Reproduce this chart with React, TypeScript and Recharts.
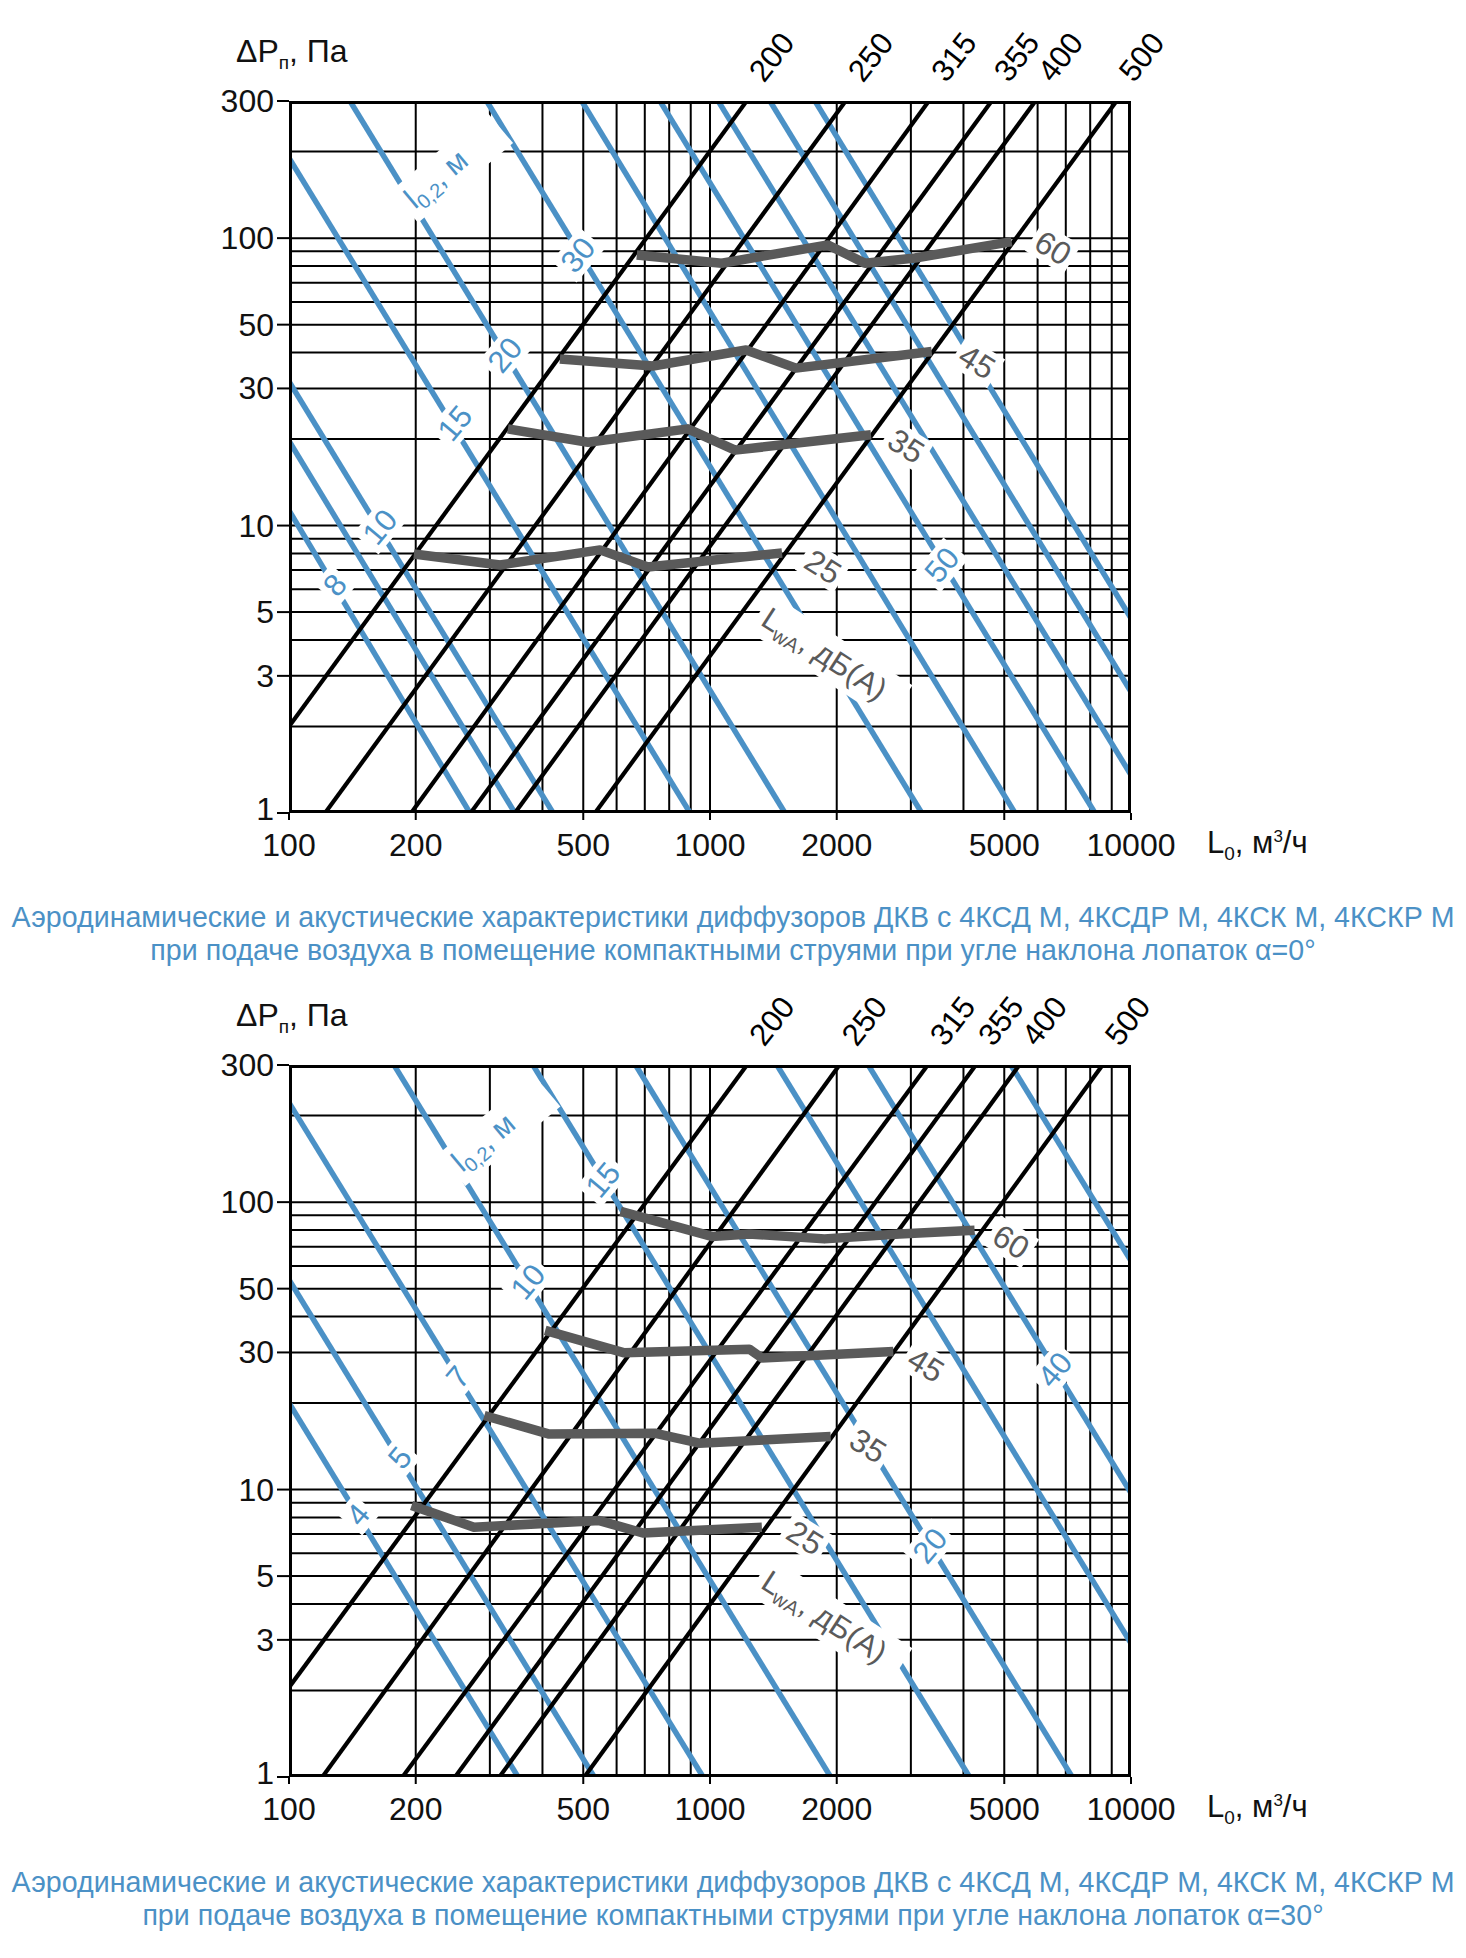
import React from 'react'
import { LineChart, Line, XAxis, YAxis, ReferenceDot } from 'recharts'

document.body.style.margin = '0'

const FONT = "'Liberation Sans', Arial, sans-serif"
const BLUE = '#4b91c6'
const GRAY = '#5a5a5a'

// log grid
const xGrid = [100, 200, 300, 400, 500, 600, 700, 800, 900, 1000, 2000, 3000, 4000, 5000, 6000, 7000, 8000, 9000, 10000]
const yGrid = [1, 2, 3, 4, 5, 6, 7, 8, 9, 10, 20, 30, 40, 50, 60, 70, 80, 90, 100, 200, 300]
const xTicks = [100, 200, 500, 1000, 2000, 5000, 10000]
const yTicks = [1, 3, 5, 10, 30, 50, 100, 300]
const diameters = ['200', '250', '315', '355', '400', '500']

type Pt = [number, number]
type Lbl = [number, number, string]

// ---- alpha = 0 ----
const ductTop: Pt[][] = [
  [[100, 2.0], [1222, 300]],
  [[121.8, 1], [2100, 300]],
  [[195, 1], [3310, 300]],
  [[270, 1], [4667, 300]],
  [[344, 1], [5930, 300]],
  [[533, 1], [9240, 300]],
]
const throwTop: Pt[][] = [
  [[100, 190], [897, 1]],
  [[100, 31.7], [424, 1]],
  [[100, 19.7], [344, 1]],
  [[100, 11.3], [269, 1]],
  [[139.6, 300], [1507, 1]],
  [[294.8, 300], [3184, 1]],
  [[495.7, 300], [5302, 1]],
  [[760.6, 300], [8211, 1]],
  [[1046, 300], [10000, 1.356]],
  [[1388, 300], [10000, 2.64]],
  [[1776, 300], [10000, 4.76]],
]
const noiseTop: Pt[][] = [
  [[670, 87.4], [1066, 81.8], [1906, 94.7], [2334, 81.8], [3069, 85.3], [5206, 97.2]],
  [[440, 38.0], [732, 35.9], [1218, 40.8], [1601, 35.3], [3362, 40.3]],
  [[331, 21.7], [513, 19.5], [886, 21.7], [1147, 18.3], [2412, 20.7]],
  [[198, 7.96], [317, 7.29], [548, 8.23], [712, 7.18], [1483, 8.03]],
]
const throwLabelsTop: Lbl[] = [
  [486, 87.4, '30'], [326, 39.2, '20'], [248, 22.7, '15'], [164.5, 9.89, '10'], [128.6, 6.21, '8'], [3556, 7.29, '50'],
]
const noiseLabelsTop: Lbl[] = [
  [6527, 92.4, '60'], [4308, 37.1, '45'], [2922, 18.9, '35'], [1855, 7.18, '25'],
]
const l02Top: Pt = [244, 177]
const lwaTop: Pt = [1928, 3.46]

// ---- alpha = 30 ----
const ductBottom: Pt[][] = [
  [[100, 2.05], [1224, 300]],
  [[120, 1], [2030, 300]],
  [[186, 1], [3290, 300]],
  [[248, 1], [4280, 300]],
  [[316, 1], [5430, 300]],
  [[503, 1], [8560, 300]],
]
const throwBottom: Pt[][] = [
  [[100, 20.0], [350, 1]],
  [[100, 53.7], [531, 1]],
  [[100, 222], [963, 1]],
  [[177.6, 300], [1935, 1]],
  [[379.7, 300], [4136, 1]],
  [[665.6, 300], [7250, 1]],
  [[1442, 300], [10000, 2.92]],
  [[2376, 300], [10000, 9.73]],
  [[5184, 300], [10000, 62.5]],
]
const noiseBottom: Pt[][] = [
  [[613, 92.9], [1010, 76], [1240, 77.5], [1870, 74.5], [2818, 77.5], [4251, 79.9]],
  [[406, 35.8], [626, 29.9], [1240, 30.8], [1328, 28.7], [2725, 30.2]],
  [[291, 18.1], [415, 15.6], [743, 15.7], [943, 14.5], [1935, 15.3]],
  [[195.5, 8.8], [275, 7.4], [546, 7.8], [693, 7.06], [1328, 7.4]],
]
const throwLabelsBottom: Lbl[] = [
  [557, 119.5, '15'], [369.6, 52.8, '10'], [252, 24.6, '7'], [183.5, 12.9, '5'], [145.8, 8.16, '4'], [6600, 26.1, '40'], [3332, 6.37, '20'],
]
const noiseLabelsBottom: Lbl[] = [
  [5188, 72.7, '60'], [3258, 27.1, '45'], [2373, 14.2, '35'], [1681, 6.79, '25'],
]
const l02Bottom: Pt = [316, 178]
const lwaBottom: Pt = [1928, 3.49]

const captionLine1 = 'Аэродинамические и акустические характеристики диффузоров ДКВ с 4КСД М, 4КСДР М, 4КСК М, 4КСКР М'
const captionTop = 'при подаче воздуха в помещение компактными струями при угле наклона лопаток α=0°'
const captionBottom = 'при подаче воздуха в помещение компактными струями при угле наклона лопаток α=30°'

const toRows = (pts: Pt[]) => pts.map(([x, y]) => ({ x, y }))

const TextTag = ({ cx, cy, text, color, angle, size, bg = true }: any) => {
  const w = text.length * size * 0.58 + 8
  const h = size + 2
  return (
    <g transform={`translate(${cx},${cy}) rotate(${angle})`}>
      {bg && <rect x={-w / 2} y={-h / 2} width={w} height={h} fill="#fff" />}
      <text textAnchor="middle" dominantBaseline="central" fill={color} fontSize={size} fontFamily={FONT}>
        {text}
      </text>
    </g>
  )
}

const L02Tag = ({ cx, cy }: any) => (
  <g transform={`translate(${cx},${cy}) rotate(-40)`}>
    <rect x={-62} y={-21} width={124} height={42} fill="#fff" />
    <text x={-56} y={9} fill={BLUE} fontSize={30} fontFamily={FONT}>
      l<tspan fontSize={20} dy={6}>0,2</tspan>
      <tspan dy={-6}>, м</tspan>
    </text>
  </g>
)

const LwaTag = ({ cx, cy }: any) => (
  <g transform={`translate(${cx},${cy}) rotate(33)`}>
    <rect x={-84} y={-22} width={168} height={44} fill="#fff" />
    <text x={-78} y={10} fill={GRAY} fontSize={31} fontFamily={FONT}>
      L<tspan fontSize={20} dy={6}>wA</tspan>
      <tspan dy={-6}>, дБ(А)</tspan>
    </text>
  </g>
)

// y tick: the lowest label sits a little higher so it clears the x labels
const YTick = ({ x, y, payload }: any) => (
  <text x={x} y={payload.value === 1 ? y - 4 : y} textAnchor="end" dominantBaseline="central"
    fontSize={32} fill="#111" fontFamily={FONT}>
    {payload.value}
  </text>
)

function seg(key: string, pts: Pt[], stroke: string, width: number) {
  return (
    <Line
      key={key}
      data={toRows(pts)}
      dataKey="y"
      stroke={stroke}
      strokeWidth={width}
      dot={false}
      activeDot={false}
      isAnimationActive={false}
      legendType="none"
      strokeLinejoin="round"
    />
  )
}

function Chart(props: {
  ducts: Pt[][]
  throws: Pt[][]
  noise: Pt[][]
  throwLabels: Lbl[]
  noiseLabels: Lbl[]
  l02: Pt
  lwa: Pt
}) {
  const { ducts, throws, noise, throwLabels, noiseLabels, l02, lwa } = props
  return (
    <LineChart width={1466} height={900} margin={{ top: 101, right: 335, bottom: 37, left: 229 }}>
      <XAxis
        type="number"
        dataKey="x"
        scale="log"
        domain={[100, 10000]}
        ticks={xTicks}
        allowDataOverflow
        height={50}
        axisLine={false}
        tickSize={7}
        tickLine={{ stroke: '#000', strokeWidth: 2 }}
        tick={{ fontSize: 32, fill: '#111', fontFamily: FONT }}
        tickMargin={13}
      />
      <YAxis
        type="number"
        dataKey="y"
        scale="log"
        domain={[1, 300]}
        ticks={yTicks}
        allowDataOverflow
        width={60}
        axisLine={false}
        tickSize={12}
        tickLine={{ stroke: '#000', strokeWidth: 2 }}
        tick={<YTick />}
        tickMargin={3}
      />
      {xGrid.map((v) => seg(`gx${v}`, [[v, 1], [v, 300]], '#000', 2))}
      {yGrid.map((v) => seg(`gy${v}`, [[100, v], [10000, v]], '#000', 2))}
      {throws.map((p, i) => seg(`t${i}`, p, BLUE, 5.5))}
      {ducts.map((p, i) => seg(`d${i}`, p, '#000', 4.2))}
      {noise.map((p, i) => seg(`n${i}`, p, GRAY, 9.5))}
      {seg('b1', [[100, 1], [10000, 1]], '#000', 6)}
      {seg('b2', [[100, 300], [10000, 300]], '#000', 6)}
      {seg('b3', [[100, 1], [100, 300]], '#000', 6)}
      {seg('b4', [[10000, 1], [10000, 300]], '#000', 6)}
      {throwLabels.map(([x, y, t]) => (
        <ReferenceDot key={`tl${t}`} x={x} y={y} r={0} ifOverflow="visible"
          shape={(p: any) => <TextTag cx={p.cx} cy={p.cy} text={t} color={BLUE} angle={-50} size={31} />} />
      ))}
      {noiseLabels.map(([x, y, t]) => (
        <ReferenceDot key={`nl${t}`} x={x} y={y} r={0} ifOverflow="visible"
          shape={(p: any) => <TextTag cx={p.cx} cy={p.cy} text={t} color={GRAY} angle={32} size={32} />} />
      ))}
      <ReferenceDot x={l02[0]} y={l02[1]} r={0} ifOverflow="visible" shape={(p: any) => <L02Tag cx={p.cx} cy={p.cy} />} />
      <ReferenceDot x={lwa[0]} y={lwa[1]} r={0} ifOverflow="visible" shape={(p: any) => <LwaTag cx={p.cx} cy={p.cy} />} />
      {ducts.map((p, i) => (
        <ReferenceDot key={`dl${i}`} x={p[1][0]} y={p[1][1]} r={0} ifOverflow="visible"
          shape={(q: any) => <TextTag cx={q.cx + 25} cy={q.cy - 44} text={diameters[i]} color="#000" angle={-52} size={31} bg={false} />} />
      ))}
    </LineChart>
  )
}

const abs = (top: number, left: number, extra: React.CSSProperties = {}): React.CSSProperties => ({
  position: 'absolute', top, left, fontFamily: FONT, ...extra,
})

function AxisTitles({ top }: { top: number }) {
  return (
    <>
      <div style={abs(top + 33, 236, { fontSize: 32, color: '#111', whiteSpace: 'nowrap' })}>
        ΔP<sub style={{ fontSize: 19 }}>п</sub>, Па
      </div>
      <div style={abs(top + 825, 1207, { fontSize: 31, color: '#111', whiteSpace: 'nowrap' })}>
        L<sub style={{ fontSize: 19 }}>0</sub>, м<sup style={{ fontSize: 17 }}>3</sup>/ч
      </div>
    </>
  )
}

function Caption({ top, second }: { top: number; second: string }) {
  const st: React.CSSProperties = { fontSize: 28.6, color: BLUE, textAlign: 'center', width: 1466, lineHeight: '33px' }
  return (
    <div style={abs(top, 0, st)}>
      <div>{captionLine1}</div>
      <div>{second}</div>
    </div>
  )
}

export default function App() {
  return (
    <div style={{ position: 'relative', width: 1466, height: 1958, background: '#fff', overflow: 'hidden' }}>
      <div style={abs(0, 0)}>
        <Chart ducts={ductTop} throws={throwTop} noise={noiseTop} throwLabels={throwLabelsTop}
          noiseLabels={noiseLabelsTop} l02={l02Top} lwa={lwaTop} />
      </div>
      <AxisTitles top={0} />
      <Caption top={901} second={captionTop} />
      <div style={abs(964, 0)}>
        <Chart ducts={ductBottom} throws={throwBottom} noise={noiseBottom} throwLabels={throwLabelsBottom}
          noiseLabels={noiseLabelsBottom} l02={l02Bottom} lwa={lwaBottom} />
      </div>
      <AxisTitles top={964} />
      <Caption top={1866} second={captionBottom} />
    </div>
  )
}
